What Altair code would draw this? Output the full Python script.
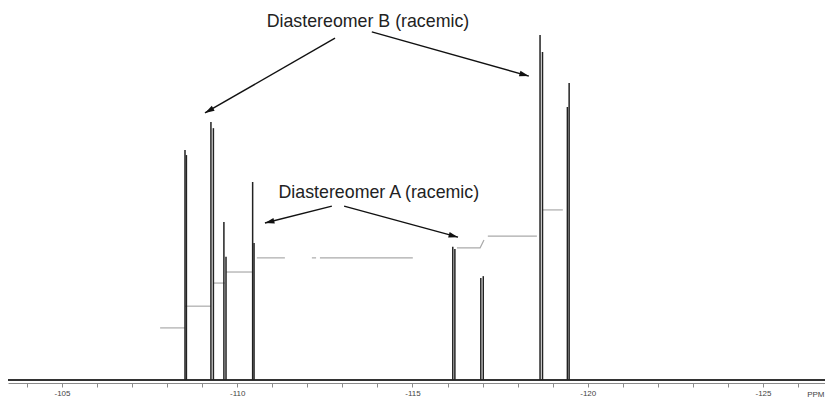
import math
import altair as alt
import pandas as pd

# ---- data ----
# peak lines: chemical shift (ppm) and relative intensity
peak_ppm = [-108.51, -108.55, -109.25, -109.32, -109.62, -109.68, -110.44, -110.48,
            -116.15, -116.21, -116.95, -117.02, -118.64, -118.71, -119.42, -119.47]
peak_int = [66.7, 65.2, 74.8, 73.0, 45.8, 35.7, 57.4, 39.7,
            38.6, 38.0, 29.6, 30.1, 100.0, 95.1, 79.1, 86.1]

# integral trace (step segments)
integ_seg = [1, 1, 2, 2, 3, 3, 4, 4, 5, 5, 6, 6, 7, 7, 8, 8, 8, 9, 9, 10, 10]
integ_ppm = [-107.80, -108.51, -108.51, -109.25, -109.31, -109.65, -109.68, -110.45,
             -110.56, -111.36, -112.13, -112.25, -112.36, -115.01,
             -116.27, -116.93, -117.04, -117.15, -118.55, -118.72, -119.29]
integ_val = [15.1, 15.1, 21.4, 21.4, 28.1, 28.1, 31.3, 31.3,
             35.4, 35.4, 35.4, 35.4, 35.4, 35.4,
             38.3, 38.3, 40.6, 41.7, 41.7, 49.3, 49.3]

# annotations
label_text = ["Diastereomer B (racemic)", "Diastereomer A (racemic)"]
label_ppm = [-113.73, -114.04]
label_int = [102.3, 52.8]

arrow_from_ppm = [-112.79, -113.84, -112.70, -113.05]
arrow_from_int = [99.1, 100.9, 50.4, 50.4]
arrow_to_ppm = [-109.08, -118.32, -110.79, -116.30]
arrow_to_int = [77.4, 88.1, 45.5, 41.4]

tick_values = list(range(-104, -127, -1))

# ---- layout ----
W, H = 817, 375
X_DOMAIN = [-126.77, -103.46]
Y_DOMAIN = [-0.87, 107.83]
PXX = W / (X_DOMAIN[1] - X_DOMAIN[0])
PXY = H / (Y_DOMAIN[1] - Y_DOMAIN[0])

xs = alt.Scale(domain=X_DOMAIN, reverse=True, nice=False, zero=False)
ys = alt.Scale(domain=Y_DOMAIN, nice=False, zero=False)

peaks = pd.DataFrame({"ppm": peak_ppm, "inten": peak_int, "base": [0.0] * len(peak_ppm)})
integ = pd.DataFrame({"seg": integ_seg, "ppm": integ_ppm, "val": integ_val})
labels = pd.DataFrame({"label": label_text, "ppm": label_ppm, "inten": label_int})

arr = pd.DataFrame({"xa": arrow_from_ppm, "ya": arrow_from_int,
                    "xb": arrow_to_ppm, "yb": arrow_to_int})
angles = []
for a, b, c, d in zip(arrow_from_ppm, arrow_from_int, arrow_to_ppm, arrow_to_int):
    dx = -(c - a) * PXX
    dy = -(d - b) * PXY
    angles.append((math.degrees(math.atan2(dx, -dy)) + 360) % 360)
arr["rot"] = angles

FONT = "Liberation Sans"

x_axis = alt.Axis(values=tick_values,
                  labelExpr="datum.value % 5 == 0 ? '' + datum.value : ''",
                  grid=False, domainColor="#8a8a8a", tickColor="#8a8a8a",
                  tickSize=4, labelFontSize=8, labelColor="#444444", labelFont=FONT,
                  labelPadding=2, labelFlush=False,
                  title="PPM", titleFontSize=8, titleFont=FONT, titleFontWeight="normal",
                  titleColor="#444444", titleX=W - 1, titleY=7, titleAlign="right",
                  titleBaseline="top", titleAngle=0)

baseline = alt.Chart(pd.DataFrame({"v": [0.0]})).mark_rule(
    color="#333333", strokeWidth=2.2).encode(y=alt.Y("v:Q", scale=ys, axis=None))

peak_layer = alt.Chart(peaks).mark_rule(color="#222222", strokeWidth=1.5).encode(
    x=alt.X("ppm:Q", scale=xs, axis=x_axis),
    y=alt.Y("inten:Q", scale=ys, axis=None),
    y2=alt.Y2("base"),
)

integ_layer = alt.Chart(integ).mark_line(color="#aaaaaa", strokeWidth=1.2).encode(
    x=alt.X("ppm:Q", scale=xs, axis=x_axis),
    y=alt.Y("val:Q", scale=ys, axis=None),
    detail="seg:N",
)

text_layer = alt.Chart(labels).mark_text(
    font=FONT, fontSize=17.8, color="#222222", baseline="alphabetic", align="center"
).encode(
    x=alt.X("ppm:Q", scale=xs, axis=x_axis),
    y=alt.Y("inten:Q", scale=ys, axis=None),
    text="label:N",
)

arrow_lines = alt.Chart(arr).mark_rule(color="#111111", strokeWidth=1.4).encode(
    x=alt.X("xa:Q", scale=xs, axis=x_axis), x2=alt.X2("xb"),
    y=alt.Y("ya:Q", scale=ys, axis=None), y2=alt.Y2("yb"),
)

arrow_heads = alt.Chart(arr).mark_point(
    shape="M0,0 L-0.6,2 L0.6,2 Z", filled=True, color="#111111", opacity=1, size=90
).encode(
    x=alt.X("xb:Q", scale=xs, axis=x_axis),
    y=alt.Y("yb:Q", scale=ys, axis=None),
    angle=alt.Angle("rot:Q", scale=None),
)

chart = alt.layer(
    baseline, integ_layer, peak_layer, arrow_lines, arrow_heads, text_layer
).properties(
    width=W, height=H,
    background="white",
    autosize=alt.AutoSizeParams(type="none"),
    padding={"left": 0, "top": 0, "right": 0, "bottom": 14},
).configure_view(strokeWidth=0)

chart.save("out.html", embed_options={"renderer": "svg", "actions": False})
